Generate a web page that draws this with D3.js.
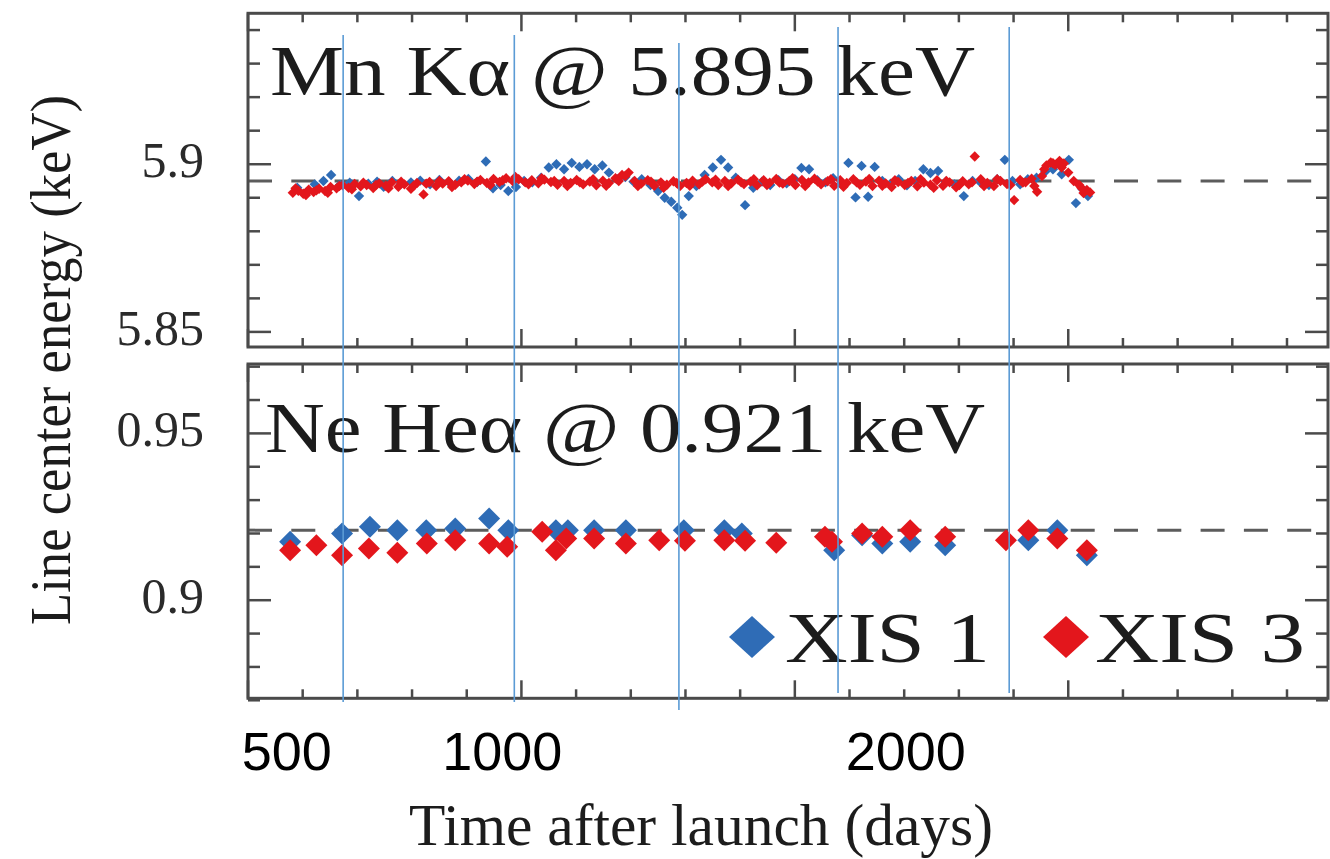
<!DOCTYPE html>
<html><head><meta charset="utf-8">
<script src="https://cdn.jsdelivr.net/npm/d3@7"></script>
<style>html,body{margin:0;padding:0;background:#fff;} svg{display:block;}</style>
</head><body>
<svg id="chart" width="1330" height="859"></svg>
<script>
// ---------------- data ----------------
const panelTitles = ["Mn K\u03b1 @ 5.895 keV", "Ne He\u03b1 @ 0.921 keV"];
const referenceEnergies = [5.895, 0.921];
const yTickLabelsTop = [5.85, 5.9];
const yTickLabelsBottom = [0.9, 0.95];
const seriesNames = ["XIS 1", "XIS 3"];
const xAxisTitle = "Time after launch (days)";
const yAxisTitle = "Line center energy (keV)";
// hand-written annotations over the figure (labels and their day positions)
const annotationLabels = ["500", "1000", "2000"];
const annotationLabelDays = [571, 965, 1703];
const annotationLineDays = [674, 987, 1288, 1579, 1892];

// XIS 1 (blue) Mn K-alpha: [day, keV]
const xis1Mn = [[590,5.8930],[606,5.8915],[622,5.8940],[638,5.8950],[652,5.8968],[668,5.8938],[686,5.8945],[703,5.8905],[720,5.8942],[736,5.8948],[748,5.8933],[764,5.8950],[780,5.8942],[798,5.8946],[815,5.8951],[833,5.8940],[850,5.8953],[868,5.8946],[886,5.8951],[903,5.8956],[919,5.8947],[935,5.9008],[948,5.8928],[962,5.8938],[976,5.8920],[990,5.8932],[1005,5.8950],[1020,5.8946],[1036,5.8960],[1050,5.8990],[1064,5.9000],[1078,5.8985],[1092,5.9004],[1106,5.8992],[1120,5.9000],[1134,5.8985],[1148,5.8996],[1160,5.8975],[1175,5.8955],[1190,5.8962],[1205,5.8948],[1220,5.8955],[1236,5.8938],[1250,5.8920],[1262,5.8900],[1274,5.8888],[1285,5.8870],[1294,5.8849],[1306,5.8905],[1320,5.8935],[1335,5.8968],[1350,5.8990],[1365,5.9013],[1378,5.8990],[1392,5.8960],[1409,5.8878],[1424,5.8930],[1440,5.8948],[1455,5.8938],[1470,5.8952],[1485,5.8943],[1500,5.8955],[1512,5.8989],[1526,5.8985],[1541,5.8952],[1556,5.8946],[1570,5.8958],[1584,5.8942],[1598,5.9004],[1611,5.8901],[1622,5.8995],[1634,5.8903],[1646,5.8992],[1660,5.8950],[1675,5.8942],[1690,5.8955],[1705,5.8937],[1720,5.8950],[1735,5.8985],[1748,5.8974],[1762,5.8980],[1776,5.8948],[1792,5.8940],[1809,5.8905],[1825,5.8950],[1840,5.8945],[1855,5.8938],[1870,5.8955],[1884,5.9013],[1898,5.8950],[1912,5.8940],[1926,5.8955],[1942,5.8960],[1958,5.8978],[1972,5.8985],[1988,5.8970],[2001,5.9013],[2014,5.8884],[2026,5.8925],[2036,5.8905]];

// XIS 3 (red) Mn K-alpha: [day, keV]
const xis3Mn = [[582,5.8915],[587,5.8928],[592,5.8921],[601,5.8912],[606,5.8908],[611,5.8924],[620,5.8917],[625,5.8922],[630,5.8927],[641,5.8920],[646,5.8915],[651,5.8932],[662,5.8928],[667,5.8935],[673,5.8937],[684,5.8930],[690,5.8925],[695,5.8941],[706,5.8934],[711,5.8945],[717,5.8938],[729,5.8929],[734,5.8938],[740,5.8943],[752,5.8936],[757,5.8928],[763,5.8946],[775,5.8933],[780,5.8948],[786,5.8940],[798,5.8927],[803,5.8936],[809,5.8944],[821,5.8910],[826,5.8942],[832,5.8947],[844,5.8935],[850,5.8950],[856,5.8942],[867,5.8949],[873,5.8932],[879,5.8939],[890,5.8946],[896,5.8955],[902,5.8951],[914,5.8941],[919,5.8948],[925,5.8953],[937,5.8944],[943,5.8938],[949,5.8956],[960,5.8947],[966,5.8952],[972,5.8958],[984,5.8950],[989,5.8962],[995,5.8955],[1007,5.8946],[1013,5.8940],[1019,5.8952],[1031,5.8943],[1037,5.8958],[1042,5.8954],[1054,5.8947],[1060,5.8950],[1066,5.8939],[1078,5.8950],[1084,5.8935],[1090,5.8944],[1101,5.8953],[1107,5.8946],[1113,5.8940],[1125,5.8948],[1131,5.8955],[1137,5.8937],[1149,5.8951],[1155,5.8936],[1160,5.8944],[1172,5.8958],[1178,5.8950],[1184,5.8968],[1190,5.8965],[1196,5.8975],[1207,5.8950],[1213,5.8935],[1219,5.8942],[1231,5.8952],[1237,5.8948],[1243,5.8936],[1255,5.8946],[1260,5.8930],[1266,5.8939],[1278,5.8949],[1284,5.8944],[1290,5.8935],[1302,5.8944],[1308,5.8936],[1313,5.8951],[1325,5.8940],[1331,5.8948],[1337,5.8955],[1349,5.8946],[1355,5.8954],[1360,5.8938],[1372,5.8950],[1378,5.8935],[1384,5.8943],[1396,5.8954],[1402,5.8946],[1407,5.8941],[1419,5.8948],[1425,5.8955],[1431,5.8937],[1443,5.8952],[1449,5.8938],[1454,5.8945],[1466,5.8956],[1472,5.8945],[1478,5.8942],[1490,5.8950],[1496,5.8958],[1501,5.8938],[1513,5.8953],[1519,5.8935],[1525,5.8946],[1536,5.8957],[1542,5.8948],[1548,5.8940],[1560,5.8949],[1566,5.8955],[1572,5.8936],[1583,5.8952],[1589,5.8933],[1595,5.8944],[1607,5.8955],[1613,5.8946],[1619,5.8939],[1630,5.8948],[1636,5.8956],[1642,5.8935],[1654,5.8951],[1660,5.8936],[1666,5.8943],[1677,5.8932],[1683,5.8952],[1689,5.8947],[1701,5.8938],[1707,5.8944],[1713,5.8950],[1724,5.8934],[1730,5.8955],[1736,5.8945],[1748,5.8939],[1754,5.8930],[1760,5.8952],[1771,5.8936],[1777,5.8950],[1783,5.8946],[1795,5.8931],[1801,5.8938],[1807,5.8949],[1818,5.8940],[1824,5.8946],[1829,5.9023],[1840,5.8955],[1846,5.8935],[1852,5.8944],[1864,5.8935],[1870,5.8955],[1876,5.8950],[1888,5.8941],[1894,5.8938],[1901,5.8893],[1912,5.8953],[1917,5.8945],[1922,5.8946],[1933,5.8957],[1938,5.8935],[1943,5.8918],[1952,5.8965],[1956,5.8985],[1960,5.8996],[1968,5.9005],[1972,5.9003],[1976,5.8998],[1984,5.9010],[1988,5.8990],[1992,5.9002],[2000,5.8975],[2010,5.8950],[2020,5.8938],[2024,5.8930],[2028,5.8914],[2034,5.8923],[2040,5.8916]];

// XIS 1 (blue) Ne He-alpha: [day, keV]
const xis1Ne = [[577,0.9175],[672,0.9200],[723,0.9220],[773,0.9210],[826,0.9210],[879,0.9215],[941,0.9245],[976,0.9210],[1063,0.9210],[1085,0.9210],[1133,0.9210],[1191,0.9210],[1297,0.9210],[1371,0.9210],[1403,0.9200],[1572,0.9150],[1623,0.9195],[1660,0.9170],[1711,0.9175],[1775,0.9165],[1927,0.9180],[1980,0.9210],[2034,0.9135]];

// XIS 3 (red) Ne He-alpha: [day, keV]
const xis3Ne = [[577,0.9150],[625,0.9165],[672,0.9135],[721,0.9155],[773,0.9142],[827,0.9170],[879,0.9180],[941,0.9170],[974,0.9160],[1038,0.9205],[1063,0.9150],[1082,0.9185],[1133,0.9185],[1191,0.9170],[1252,0.9180],[1299,0.9178],[1371,0.9180],[1409,0.9178],[1466,0.9172],[1555,0.9190],[1568,0.9175],[1623,0.9200],[1660,0.9190],[1711,0.9210],[1775,0.9190],[1886,0.9180],[1927,0.9210],[1980,0.9185],[2034,0.9150]];

// ---------------- layout ----------------
const blue = "#2f6cb6", red = "#e3161c", frameCol = "#4a4a4a", textCol = "#1c1c1c";
const serif = "'Liberation Serif','Times New Roman',serif";
const svg = d3.select("#chart");

const defs = svg.append("defs");
defs.append("filter").attr("id", "soft").attr("x", "-10%").attr("y", "-50%").attr("width", "120%").attr("height", "200%")
  .append("feGaussianBlur").attr("stdDeviation", 0.7);

const x = d3.scaleLinear().domain([500, 2475]).range([248, 1328]);
const yTop = d3.scaleLinear().domain([5.8455, 5.945]).range([347, 13.3]);
const yBot = d3.scaleLinear().domain([0.8706, 0.9708]).range([698.3, 364]);

const panels = [
  {y: yTop, ticks: d3.range(0, 10).map(k => +(5.85 + 0.01 * k).toFixed(2)), labels: yTickLabelsTop,
   ref: referenceEnergies[0], title: panelTitles[0], s1: xis1Mn, s3: xis3Mn, small: true},
  {y: yBot, ticks: d3.range(0, 11).map(k => +(0.87 + 0.01 * k).toFixed(2)), labels: yTickLabelsBottom,
   ref: referenceEnergies[1], title: panelTitles[1], s1: xis1Ne, s3: xis3Ne, small: false}
];

function diamond(cx, cy, hw, hh) {
  return `M${cx},${cy - hh}L${cx + hw},${cy}L${cx},${cy + hh}L${cx - hw},${cy}Z`;
}

const xTicks = d3.range(500, 2476, 100);
const [xl, xr] = x.range();

panels.forEach((p, i) => {
  const [yb, yt] = p.y.range();
  const g = svg.append("g");
  const clipId = "clip" + i;
  defs.append("clipPath").attr("id", clipId).append("rect")
    .attr("x", xl).attr("y", yt).attr("width", xr - xl).attr("height", yb - yt);

  // reference dashed line
  g.append("line").attr("x1", xl).attr("x2", xr)
    .attr("y1", p.y(p.ref)).attr("y2", p.y(p.ref))
    .attr("stroke", "#5c5c5c").attr("stroke-width", 3).attr("stroke-dasharray", "24,19.3");

  // points: blue under red
  const pg = g.append("g").attr("clip-path", `url(#${clipId})`).append("g").attr("filter", "url(#soft)");
  const hs = p.small ? 5.2 : 11;
  pg.selectAll("path.s1").data(p.s1).join("path").attr("class", "s1")
    .attr("d", d => diamond(x(d[0]), p.y(d[1]), hs, hs)).attr("fill", blue);
  pg.selectAll("path.s3").data(p.s3).join("path").attr("class", "s3")
    .attr("d", d => diamond(x(d[0]), p.y(d[1]), hs, hs)).attr("fill", red);

  // ticks
  const tg = g.append("g").attr("stroke", frameCol).attr("stroke-width", 2.5);
  xTicks.forEach(t => {
    const len = t % 500 === 0 ? 18 : 9;
    tg.append("line").attr("x1", x(t)).attr("x2", x(t)).attr("y1", yt).attr("y2", yt + len);
    tg.append("line").attr("x1", x(t)).attr("x2", x(t)).attr("y1", yb).attr("y2", yb - len);
  });
  p.ticks.forEach(t => {
    const major = p.labels.some(l => Math.abs(l - t) < 1e-6);
    const len = major ? 23 : 12;
    tg.append("line").attr("x1", xl).attr("x2", xl + len).attr("y1", p.y(t)).attr("y2", p.y(t));
    tg.append("line").attr("x1", xr).attr("x2", xr - len).attr("y1", p.y(t)).attr("y2", p.y(t));
  });

  // frame
  g.append("rect").attr("x", xl).attr("y", yt).attr("width", xr - xl).attr("height", yb - yt)
    .attr("fill", "none").attr("stroke", frameCol).attr("stroke-width", 3);

  // y tick labels
  g.selectAll("text.yl").data(p.labels).join("text").attr("class", "yl")
    .attr("x", 204).attr("y", d => p.y(d) + 13)
    .attr("text-anchor", "end").attr("font-family", serif).attr("font-size", 50)
    .attr("fill", "#2a2a2a").text(d => d);
});

// panel titles
svg.append("text").attr("x", 270).attr("y", 95).attr("font-family", serif).attr("font-size", 71)
  .attr("fill", textCol).attr("textLength", 705).attr("lengthAdjust", "spacingAndGlyphs").text(panelTitles[0]);
svg.append("text").attr("x", 265).attr("y", 452).attr("font-family", serif).attr("font-size", 71)
  .attr("fill", textCol).attr("textLength", 720).attr("lengthAdjust", "spacingAndGlyphs").text(panelTitles[1]);

// legend
const legendY = 637;
[[blue, 752, 785, 205], [red, 1066, 1095, 210]].forEach((l, i) => {
  svg.append("path").attr("d", diamond(l[1], legendY, 23, 21)).attr("fill", l[0]);
  svg.append("text").attr("x", l[2]).attr("y", 662).attr("font-family", serif).attr("font-size", 71)
    .attr("fill", textCol).attr("textLength", l[3]).attr("lengthAdjust", "spacingAndGlyphs").text(seriesNames[i]);
});

// axis titles
svg.append("text").attr("x", 409).attr("y", 845).attr("font-family", serif).attr("font-size", 60)
  .attr("fill", textCol).attr("textLength", 584).attr("lengthAdjust", "spacingAndGlyphs").text(xAxisTitle);
svg.append("text").attr("transform", "translate(70,360) rotate(-90)").attr("text-anchor", "middle")
  .attr("font-family", serif).attr("font-size", 56).attr("fill", textCol)
  .attr("textLength", 530).attr("lengthAdjust", "spacingAndGlyphs").text(yAxisTitle);

// presenter annotations: vertical blue lines and sans-serif numbers
const annotLineExtents = [[35, 702], [35, 702], [43, 710], [27, 693], [27, 693]];
annotationLineDays.forEach((d, i) => {
  svg.append("line").attr("x1", x(d)).attr("x2", x(d))
    .attr("y1", annotLineExtents[i][0]).attr("y2", annotLineExtents[i][1])
    .attr("stroke", "#5b9bd5").attr("stroke-width", 1.6);
});
annotationLabels.forEach((t, i) => {
  svg.append("text").attr("x", x(annotationLabelDays[i])).attr("y", 770).attr("text-anchor", "middle")
    .attr("font-family", "'Liberation Sans',Arial,sans-serif").attr("font-size", 54).attr("fill", "#000").text(t);
});
</script>
</body></html>
